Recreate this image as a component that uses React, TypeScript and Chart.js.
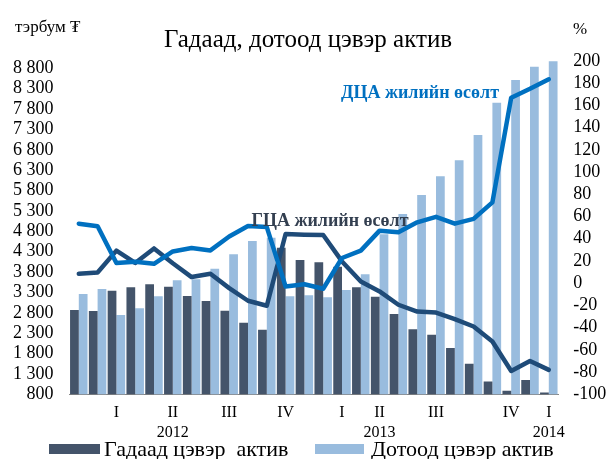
import React, { useEffect, useRef } from 'react';
import { Chart, registerables } from 'chart.js';

Chart.register(...registerables);

const FONT = '"Liberation Serif", "DejaVu Serif", "Times New Roman", serif';

// Months Jan 2012 .. Feb 2014
const categories = [
  '2012-01', '2012-02', '2012-03', '2012-04', '2012-05', '2012-06',
  '2012-07', '2012-08', '2012-09', '2012-10', '2012-11', '2012-12',
  '2013-01', '2013-02', '2013-03', '2013-04', '2013-05', '2013-06',
  '2013-07', '2013-08', '2013-09', '2013-10', '2013-11', '2013-12',
  '2014-01', '2014-02',
];

const quarterLabels = [
  '', '', 'I', '', '', 'II', '', '', 'III', '', '', 'IV',
  '', '', 'I', '', 'II', '', '', 'III', '', '', '', 'IV', '', 'I',
];

const yearLabels = [
  '', '', '', '', '', '2012', '', '', '', '', '', '',
  '', '', '', '', '2013', '', '', '', '', '', '', '', '', '2014',
];

// тэрбум ₮
const gadaadActiv = [
  2869, 2844, 3342, 3426, 3499, 3441, 3212, 3090, 2852, 2557, 2385, 4398,
  4096, 4039, 3931, 3426, 3195, 2771, 2395, 2263, 1936, 1551, 1112, 888, 1153, 844,
];

const dotoodActiv = [
  3261, 3384, 2746, 2910, 3205, 3598, 3622, 3882, 4236, 4562, 4643, 3205,
  3229, 3180, 3360, 3745, 4726, 5225, 5691, 6150, 6542, 7163, 7956, 8513, 8839, 8975,
];

// % annual growth
const gcaGrowth = [
  8.5, 9.7, 29.3, 18.2, 31.3, 18, 5.5, 8.5, -4.4, -15.8, -20.3, 44.3,
  43.7, 43.4, 19.6, 1.6, -7.4, -19.4, -25.5, -26.4, -32.3, -39, -52.5, -79, -70, -78,
];

const dcaGrowth = [
  53.6, 51.2, 18.2, 19.3, 17.5, 28.6, 31.7, 29.5, 42, 51.5, 50.5, -3,
  -1, -5, 22.7, 29.3, 47.3, 45.8, 54.8, 59.7, 53.6, 57.9, 72.8, 167, 175, 183.5,
];

const leftTicks = [800, 1300, 1800, 2300, 2800, 3300, 3800, 4300, 4800, 5300, 5800, 6300, 6800, 7300, 7800, 8300, 8800];

const titleText = 'Гадаад, дотоод цэвэр актив';
const leftUnit = 'тэрбум ₮';
const rightUnit = '%';
const seriesNames = ['Гадаад цэвэр  актив', 'Дотоод цэвэр актив', 'ГЦА жилийн өсөлт', 'ДЦА жилийн өсөлт'];

const DARK_BAR = '#44546A';
const LIGHT_BAR = '#99BCDE';
const GCA_LINE = '#1F4B78';
const DCA_LINE = '#0070C0';

function fmtThousands(v: number): string {
  if (v >= 1000) {
    return `${Math.floor(v / 1000)} ${String(v % 1000).padStart(3, '0')}`;
  }
  return String(v);
}

const overlayPlugin = {
  id: 'overlayTexts',
  afterDatasetsDraw(chart: any) {
    const ctx = chart.ctx as CanvasRenderingContext2D;
    ctx.save();
    ctx.textBaseline = 'middle';

    // title
    ctx.fillStyle = '#000';
    ctx.textAlign = 'center';
    ctx.font = `25px ${FONT}`;
    ctx.fillText(titleText, 308, 40);

    // units
    ctx.font = `17px ${FONT}`;
    ctx.textAlign = 'left';
    ctx.fillText(leftUnit, 15, 28);
    ctx.fillText(rightUnit, 573, 30);

    // series annotations
    ctx.font = `bold 18px ${FONT}`;
    ctx.textAlign = 'center';
    ctx.fillStyle = DCA_LINE;
    ctx.fillText(seriesNames[3], 420, 93);
    ctx.fillStyle = '#333F50';
    ctx.fillText(seriesNames[2], 330, 221);

    // legend
    ctx.textAlign = 'left';
    ctx.font = `22px ${FONT}`;
    ctx.fillStyle = DARK_BAR;
    ctx.fillRect(49, 444, 51, 10);
    ctx.fillStyle = '#000';
    ctx.fillText(seriesNames[0], 104, 450);
    ctx.fillStyle = LIGHT_BAR;
    ctx.fillRect(315, 444, 49, 10);
    ctx.fillStyle = '#000';
    ctx.fillText(seriesNames[1], 371, 450);

    ctx.restore();
  },
};

export default function App() {
  const canvasRef = useRef<HTMLCanvasElement | null>(null);

  useEffect(() => {
    if (!canvasRef.current) return;
    const chart = new Chart(canvasRef.current, {
      type: 'bar',
      data: {
        labels: categories,
        datasets: [
          {
            type: 'line',
            label: seriesNames[3],
            data: dcaGrowth,
            yAxisID: 'y1',
            borderColor: DCA_LINE,
            backgroundColor: DCA_LINE,
            borderWidth: 4.5,
            pointRadius: 0,
            tension: 0,
            borderCapStyle: 'round',
            borderJoinStyle: 'round',
            order: 0,
          } as any,
          {
            type: 'line',
            label: seriesNames[2],
            data: gcaGrowth,
            yAxisID: 'y1',
            borderColor: GCA_LINE,
            backgroundColor: GCA_LINE,
            borderWidth: 4.5,
            pointRadius: 0,
            tension: 0,
            borderCapStyle: 'round',
            borderJoinStyle: 'round',
            order: 1,
          } as any,
          {
            type: 'bar',
            label: seriesNames[0],
            data: gadaadActiv,
            yAxisID: 'y',
            backgroundColor: DARK_BAR,
            categoryPercentage: 0.93,
            barPercentage: 1.0,
            order: 2,
          },
          {
            type: 'bar',
            label: seriesNames[1],
            data: dotoodActiv,
            yAxisID: 'y',
            backgroundColor: LIGHT_BAR,
            categoryPercentage: 0.93,
            barPercentage: 1.0,
            order: 2,
          },
        ],
      },
      options: {
        responsive: false,
        animation: false,
        devicePixelRatio: 1,
        layout: { padding: { top: 61, left: 0, right: 0, bottom: 470 - 394.3 - 50 } },
        plugins: {
          legend: { display: false },
          title: { display: false },
          tooltip: { enabled: false },
        },
        scales: {
          x: {
            offset: true,
            grid: { display: false, drawTicks: false },
            border: { display: true, color: '#868686', width: 1 },
            ticks: {
              autoSkip: false,
              maxRotation: 0,
              minRotation: 0,
              padding: 8,
              color: '#000',
              font: { family: FONT, size: 16, lineHeight: 1.28 },
              callback: (_v: any, i: number) =>
                yearLabels[i] ? [quarterLabels[i], yearLabels[i]] : quarterLabels[i],
            },
            afterFit: (s: any) => {
              s.height = 50;
            },
          },
          y: {
            position: 'left',
            min: 800,
            max: 8980,
            grid: { display: false, drawTicks: false },
            border: { display: false },
            ticks: {
              autoSkip: false,
              padding: 16,
              color: '#000',
              font: { family: FONT, size: 18 },
              callback: (v: any) => fmtThousands(Number(v)),
            },
            afterBuildTicks: (s: any) => {
              s.ticks = leftTicks.map((v) => ({ value: v }));
            },
            afterFit: (s: any) => {
              s.width = 69.4;
            },
          },
          y1: {
            position: 'right',
            min: -100,
            max: 200,
            grid: { display: false, drawTicks: false },
            border: { display: false },
            ticks: {
              autoSkip: false,
              stepSize: 20,
              padding: 15,
              color: '#000',
              font: { family: FONT, size: 18 },
            },
            afterFit: (s: any) => {
              s.width = 48.8;
            },
          },
        },
      },
      plugins: [overlayPlugin],
    });
    return () => chart.destroy();
  }, []);

  return (
    <div style={{ position: 'fixed', left: 0, top: 0, width: 607, height: 470, background: '#fff' }}>
      <canvas ref={canvasRef} width={607} height={470} style={{ display: 'block' }} />
    </div>
  );
}
